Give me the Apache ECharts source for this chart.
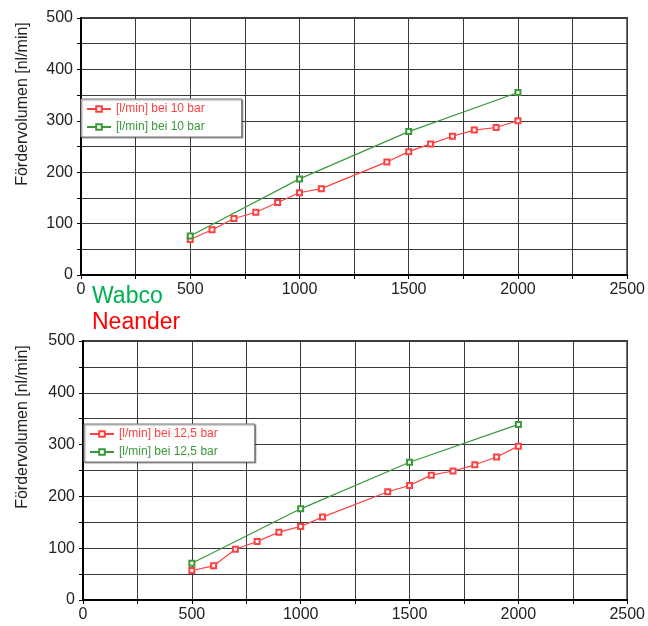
<!DOCTYPE html>
<html>
<head>
<meta charset="utf-8">
<script src="https://cdn.jsdelivr.net/npm/echarts@6/dist/echarts.min.js"></script>
<style>
  html, body { margin: 0; padding: 0; background: #fff; overflow: hidden; }
  #chart { width: 648px; height: 626px; }
</style>
</head>
<body>
<div id="chart"></div>
<script>
// Drehzahl-Stützstellen
var neanderX = [500, 600, 700, 800, 900, 1000, 1100, 1400, 1500, 1600, 1700, 1800, 1900, 2000];
var wabcoX = [500, 1000, 1500, 2000];

// oben: 10 bar
var neander10 = [69, 88, 110, 122, 141, 160, 168, 220, 240, 255, 270, 282, 287, 300];
var wabco10 = [76, 187, 279, 355];

// unten: 12,5 bar
var neander125 = [57, 66, 98, 113, 131, 142, 160, 209, 221, 241, 249, 261, 276, 297];
var wabco125 = [71, 176, 266, 339];

var legendText = {
  n10: "[l/min] bei 10 bar",
  w10: "[l/min] bei 10 bar",
  n125: "[l/min] bei 12,5 bar",
  w125: "[l/min] bei 12,5 bar"
};
var yName = "Fördervolumen [nl/min]";

var RED = "#ff4040";
var GREEN = "#3a9a3a";
var FONT = "Liberation Sans, Arial, sans-serif";

function pairs(xs, ys) {
  var res = [];
  for (var i = 0; i < xs.length; i++) {
    res.push([xs[i], ys[i]]);
  }
  return res;
}

function xAxis(idx) {
  return {
    type: "value", gridIndex: idx, min: 0, max: 2500, interval: 250,
    axisLine: { lineStyle: { color: "#000", width: 2 } },
    axisTick: { length: 4, lineStyle: { color: "#000" } },
    splitLine: { lineStyle: { color: "#3a3a3a", width: 1 } },
    axisLabel: {
      fontSize: 16, color: "#222", fontFamily: FONT, margin: 7,
      formatter: function (v) { return v % 500 === 0 ? v : ""; }
    }
  };
}

function yAxis(idx) {
  return {
    type: "value", gridIndex: idx, min: 0, max: 500, interval: 50,
    axisLine: { show: true, lineStyle: { color: "#000", width: 2 } },
    axisTick: { show: true, length: 4, lineStyle: { color: "#000" } },
    splitLine: { lineStyle: { color: "#3a3a3a", width: 1 } },
    axisLabel: {
      fontSize: 16, color: "#222", fontFamily: FONT, margin: 8,
      formatter: function (v) { return v % 100 === 0 ? v : ""; }
    }
  };
}

function line(name, idx, data, color) {
  return {
    name: name, type: "line", xAxisIndex: idx, yAxisIndex: idx,
    data: data, symbol: "emptyRect", symbolSize: 5,
    lineStyle: { color: color, width: 1.2 },
    itemStyle: { color: color, borderWidth: 1.2 },
    animation: false
  };
}

function legend(names, left, top) {
  return {
    orient: "vertical", left: left, top: top,
    itemWidth: 24, itemHeight: 7, itemGap: 6,
    padding: [4, 37, 4, 5],
    backgroundColor: "#fff", borderColor: "#777", borderWidth: 1,
    shadowColor: "rgba(0,0,0,0.35)", shadowOffsetX: 1, shadowOffsetY: 1, shadowBlur: 1,
    textStyle: { fontSize: 12, fontFamily: FONT },
    formatter: function (n) { return legendText[n]; },
    data: [
      { name: names[0], textStyle: { color: RED } },
      { name: names[1], textStyle: { color: GREEN } }
    ]
  };
}

var myChart = echarts.init(document.getElementById("chart"));
var option = {
  backgroundColor: "#fff",
  animation: false,
  grid: [
    { left: 81, top: 18, width: 549, height: 257, show: true, borderColor: "#000", borderWidth: 1.5 },
    { left: 83, top: 341, width: 550, height: 259, show: true, borderColor: "#000", borderWidth: 1.5 }
  ],
  xAxis: [xAxis(0), xAxis(1)],
  yAxis: [yAxis(0), yAxis(1)],
  legend: [legend(["n10", "w10"], 81, 99), legend(["n125", "w125"], 84, 424)],
  series: [
    line("n10", 0, pairs(neanderX, neander10), RED),
    line("w10", 0, pairs(wabcoX, wabco10), GREEN),
    line("n125", 1, pairs(neanderX, neander125), RED),
    line("w125", 1, pairs(wabcoX, wabco125), GREEN)
  ],
  graphic: [
    { type: "text", x: 23, y: 104, rotation: Math.PI / 2,
      style: { text: yName, font: "16px " + FONT, fill: "#222", align: "center", verticalAlign: "middle" } },
    { type: "text", x: 23, y: 427, rotation: Math.PI / 2,
      style: { text: yName, font: "16px " + FONT, fill: "#222", align: "center", verticalAlign: "middle" } },
    { type: "text", x: 92, y: 297,
      style: { text: "Wabco", font: "23px " + FONT, fill: "#00b050", verticalAlign: "middle" } },
    { type: "text", x: 92, y: 323,
      style: { text: "Neander", font: "23px " + FONT, fill: "#ff0000", verticalAlign: "middle" } }
  ]
};
myChart.setOption(option);
window.addEventListener("resize", function () {
  myChart.resize();
});
</script>
</body>
</html>
